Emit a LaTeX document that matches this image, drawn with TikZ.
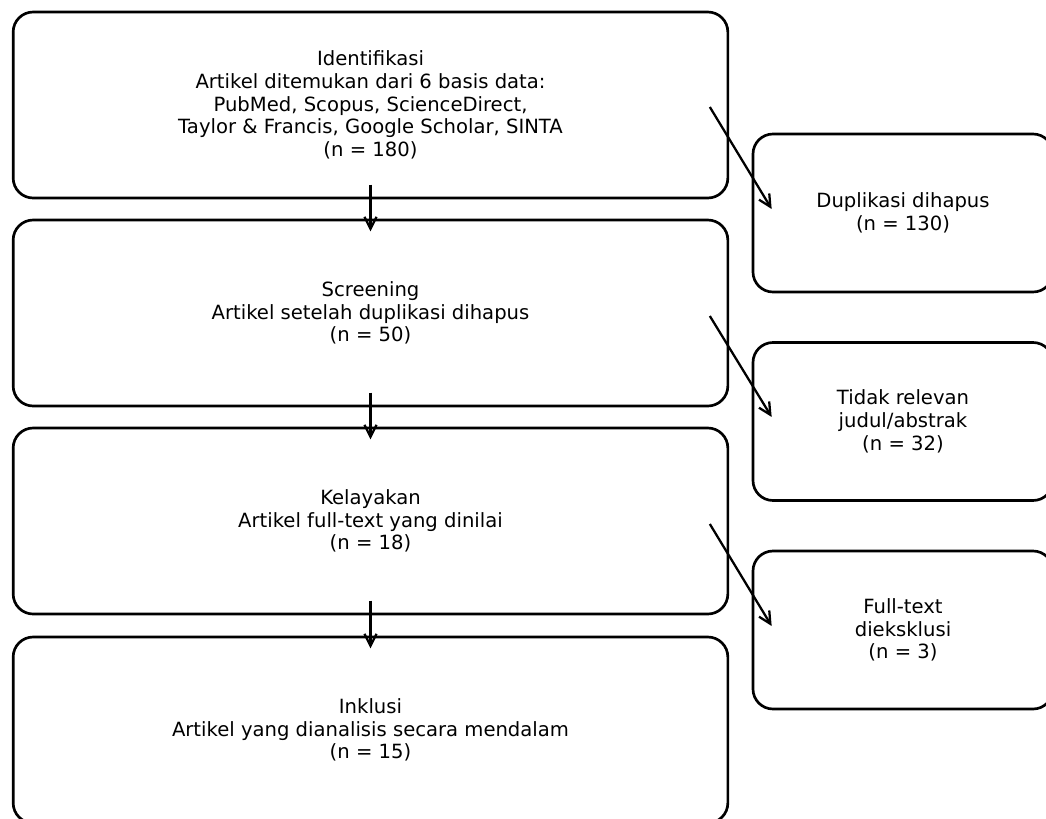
\documentclass[tikz,border=0pt]{standalone}
\usepackage{fontspec}
\setmainfont{DejaVu Sans}
\usetikzlibrary{arrows.meta}
\begin{document}
\begin{tikzpicture}[
    x=0.75pt, y=-0.75pt,
    every node/.style={draw, line width=2pt, rounded corners=15pt,
        align=center, font=\fontsize{14.7}{17}\selectfont, inner sep=0pt},
    stage/.style={minimum width=536pt, minimum height=139.5pt},
    side/.style={minimum width=225pt, minimum height=118.5pt},
    arr/.style={-{Straight Barb[length=9pt,width=9pt]}, line width=1.7pt}]

\clip (0,0) rectangle (1046,818);

\node[stage] (id) at (370.5,105) {Identifikasi\\Artikel ditemukan dari 6 basis data:\\PubMed, Scopus, ScienceDirect,\\Taylor \& Francis, Google Scholar, SINTA\\(n = 180)};
\node[stage] (scr) at (370.5,313) {Screening\\Artikel setelah duplikasi dihapus\\(n = 50)};
\node[stage] (kel) at (370.5,521) {Kelayakan\\Artikel full-text yang dinilai\\(n = 18)};
\node[stage] (inc) at (370.5,730) {Inklusi\\Artikel yang dianalisis secara mendalam\\(n = 15)};

\node[side] (dup) at (903,213) {Duplikasi dihapus\\(n = 130)};
\node[side] (tdk) at (903,421.5) {Tidak relevan\\judul/abstrak\\(n = 32)};
\node[side] (ful) at (903,630) {Full-text\\dieksklusi\\(n = 3)};

\draw[arr] ([yshift=11pt]id.south) -- ([yshift=-9.5pt]scr.north);
\draw[arr] ([yshift=11pt]scr.south) -- ([yshift=-9.5pt]kel.north);
\draw[arr] ([yshift=11pt]kel.south) -- ([yshift=-9.5pt]inc.north);

\draw[arr] ([xshift=-14.5pt,yshift=-1.5pt]id.east) -- ([xshift=15pt,yshift=3pt]dup.west);
\draw[arr] ([xshift=-14.5pt,yshift=-2.25pt]scr.east) -- ([xshift=15pt,yshift=3.4pt]tdk.west);
\draw[arr] ([xshift=-14.5pt,yshift=-2.25pt]kel.east) -- ([xshift=15pt,yshift=3pt]ful.west);

\end{tikzpicture}
\end{document}
